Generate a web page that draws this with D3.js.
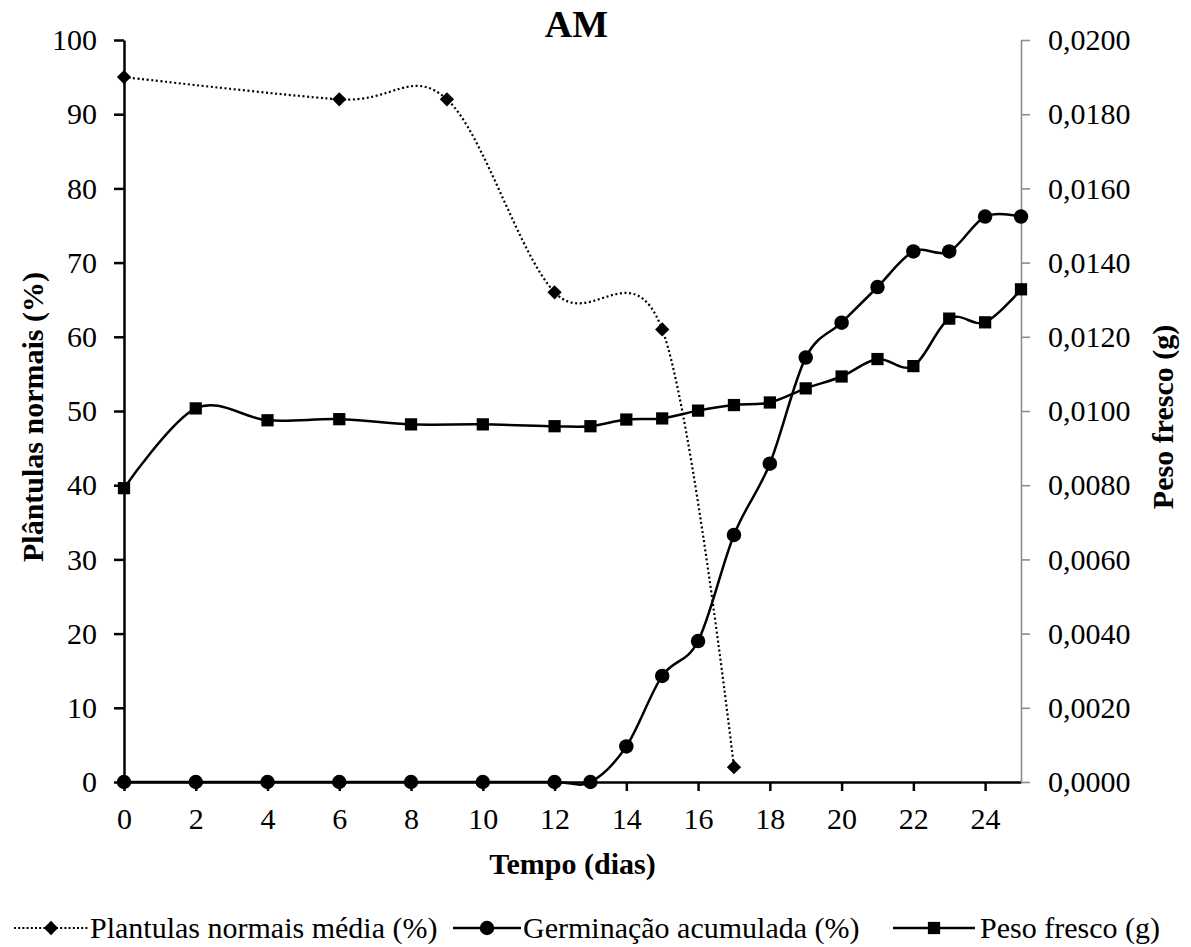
<!DOCTYPE html>
<html>
<head>
<meta charset="utf-8">
<script src="https://cdn.jsdelivr.net/npm/d3@7"></script>
<style>
  html, body { margin: 0; padding: 0; background: #fff; }
  svg { display: block; }
  text { font-family: "Liberation Serif", "Times New Roman", serif; fill: #000; }
</style>
</head>
<body>
<svg id="chart" width="1191" height="947"></svg>
<script>
// Days and values of each series
const plantulasDays = [0, 6, 9, 12, 15, 17];
const plantulasValues = [95, 92, 92, 66, 61, 2];

const germDays = [0, 2, 4, 6, 8, 10, 12, 13, 14, 15, 16, 17, 18, 19, 20, 21, 22, 23, 24, 25];
const germValues = [0, 0, 0, 0, 0, 0, 0, 0, 4.8, 14.3, 19.0, 33.3, 42.9, 57.2, 61.9, 66.7, 71.5, 71.5, 76.2, 76.2];

const pesoDays = [0, 2, 4, 6, 8, 10, 12, 13, 14, 15, 16, 17, 18, 19, 20, 21, 22, 23, 24, 25];
const pesoValues = [0.00792, 0.01007, 0.00975, 0.00978, 0.00964, 0.00964, 0.00959, 0.00959, 0.00977, 0.00980,
                    0.01001, 0.01016, 0.01023, 0.01061, 0.01093, 0.01140, 0.01121, 0.01249, 0.01239, 0.01328];

const xTicks = [0, 2, 4, 6, 8, 10, 12, 14, 16, 18, 20, 22, 24];
const leftTicks = [0, 10, 20, 30, 40, 50, 60, 70, 80, 90, 100];
const rightTicks = [0, 0.002, 0.004, 0.006, 0.008, 0.010, 0.012, 0.014, 0.016, 0.018, 0.020];

const legendLabels = ["Plantulas normais média (%)", "Germinação acumulada (%)", "Peso fresco (g)"];

const svg = d3.select("#chart");

const plotLeft = 124, plotRight = 1021, plotTop = 40, plotBottom = 782;
const x = d3.scaleLinear().domain([0, 25]).range([plotLeft, plotRight]);
const yL = d3.scaleLinear().domain([0, 100]).range([plotBottom, plotTop]);
const yR = d3.scaleLinear().domain([0, 0.02]).range([plotBottom, plotTop]);

const FS = 30;

// Axes
const xAxis = svg.append("g").attr("transform", `translate(0,${plotBottom})`)
  .call(d3.axisBottom(x).tickValues(xTicks).tickFormat(d3.format("d")).tickSize(9).tickPadding(17).tickSizeOuter(0));
const leftAxis = svg.append("g").attr("transform", `translate(${plotLeft},0)`)
  .call(d3.axisLeft(yL).tickValues(leftTicks).tickFormat(d3.format("d")).tickSize(10).tickPadding(17).tickSizeOuter(0));
const fmtR = v => d3.format(".4f")(v).replace(".", ",");
const rightAxis = svg.append("g").attr("transform", `translate(${plotRight},0)`)
  .call(d3.axisRight(yR).tickValues(rightTicks).tickFormat(fmtR).tickSize(9).tickPadding(18).tickSizeOuter(0));

[xAxis, leftAxis, rightAxis].forEach(g => {
  g.selectAll("text").style("font-size", FS + "px").style("font-family", '"Liberation Serif", serif');
});
xAxis.selectAll("path, line").attr("stroke", "#000").attr("stroke-width", 2.5);
leftAxis.selectAll("path, line").attr("stroke", "#000").attr("stroke-width", 2.5);
rightAxis.selectAll("path, line").attr("stroke", "#8c8c8c").attr("stroke-width", 1.6);

// Titles
svg.append("text").attr("x", (plotLeft + plotRight) / 2 + 4).attr("y", 37).attr("text-anchor", "middle")
  .style("font-size", "38px").style("font-weight", "bold").text("AM");
svg.append("text").attr("x", (plotLeft + plotRight) / 2).attr("y", 874).attr("text-anchor", "middle")
  .style("font-size", FS + "px").style("font-weight", "bold").text("Tempo (dias)");
svg.append("text").attr("transform", "translate(43,417) rotate(-90)").attr("text-anchor", "middle")
  .style("font-size", FS + "px").style("font-weight", "bold").text("Plântulas normais (%)");
svg.append("text").attr("transform", "translate(1173,417) rotate(-90)").attr("text-anchor", "middle")
  .style("font-size", FS + "px").style("font-weight", "bold").text("Peso fresco (g)");

const curve = d3.curveCardinal.tension(0);
const plot = svg.append("g");

// Peso fresco (right axis)
const pesoPts = pesoDays.map((d, i) => [x(d), yR(pesoValues[i])]);
plot.append("path").attr("d", d3.line().curve(curve)(pesoPts))
  .attr("fill", "none").attr("stroke", "#000").attr("stroke-width", 2.5);

// Germinação acumulada
const germPts = germDays.map((d, i) => [x(d), yL(germValues[i])]);
plot.append("path").attr("d", d3.line().curve(curve)(germPts))
  .attr("fill", "none").attr("stroke", "#000").attr("stroke-width", 2.5);

// Plantulas normais (dotted)
const plantPts = plantulasDays.map((d, i) => [x(d), yL(plantulasValues[i])]);
plot.append("path").attr("d", d3.line().curve(curve)(plantPts))
  .attr("fill", "none").attr("stroke", "#000").attr("stroke-width", 2.2).attr("stroke-dasharray", "2,2.6");

const diamond = d3.symbol().type(d3.symbolDiamond2).size(130)();
const circle = d3.symbol().type(d3.symbolCircle).size(165)();
const square = d3.symbol().type(d3.symbolSquare).size(150)();

plot.selectAll(".peso").data(pesoPts).join("path")
  .attr("d", square).attr("transform", d => `translate(${d[0]},${d[1]})`).attr("fill", "#000");
plot.selectAll(".germ").data(germPts).join("path")
  .attr("d", circle).attr("transform", d => `translate(${d[0]},${d[1]})`).attr("fill", "#000");
plot.selectAll(".plant").data(plantPts).join("path")
  .attr("d", diamond).attr("transform", d => `translate(${d[0]},${d[1]})`).attr("fill", "#000");

// Legend
const legY = 928;
const legend = svg.append("g");
const items = [
  { x0: 14, x1: 88, sym: diamond, dotted: true, tx: 90 },
  { x0: 453, x1: 521, sym: circle, dotted: false, tx: 523 },
  { x0: 893, x1: 975, sym: square, dotted: false, tx: 980 }
];
items.forEach((it, i) => {
  legend.append("line").attr("x1", it.x0).attr("x2", it.x1).attr("y1", legY).attr("y2", legY)
    .attr("stroke", "#000").attr("stroke-width", it.dotted ? 2 : 2.5)
    .attr("stroke-dasharray", it.dotted ? "2,2.2" : null);
  legend.append("path").attr("d", it.sym).attr("transform", `translate(${(it.x0 + it.x1) / 2},${legY})`).attr("fill", "#000");
  legend.append("text").attr("x", it.tx).attr("y", 938).style("font-size", FS + "px").text(legendLabels[i]);
});
</script>
</body>
</html>
